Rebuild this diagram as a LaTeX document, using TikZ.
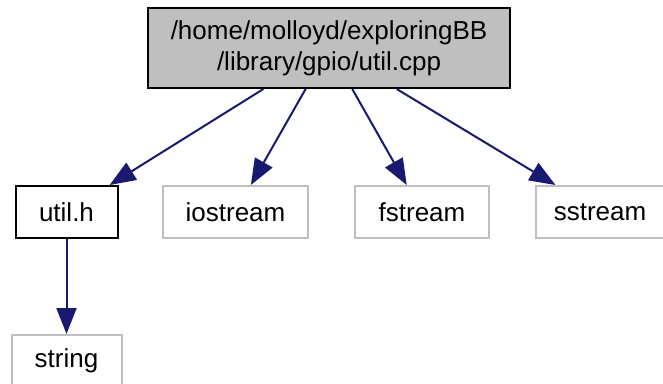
\documentclass[tikz,border=0pt]{standalone}
\usepackage{fontspec}
\setmainfont{Liberation Sans}
\usetikzlibrary{arrows.meta}
\definecolor{edgeblue}{HTML}{191970}
\definecolor{boxgray}{HTML}{BFBFBF}
\tikzset{
  filebox/.style={draw=boxgray, line width=2pt, fill=white, rectangle, inner sep=0pt,
    minimum height=52pt, font=\fontsize{26}{31}\selectfont},
  docbox/.style={filebox, draw=black},
  rootbox/.style={docbox, fill=boxgray, align=center},
  dep/.style={draw=edgeblue, line width=2pt, -{Triangle[length=26pt,width=20pt]}},
}
\begin{document}
\begin{tikzpicture}[x=1pt,y=-1pt]
  \fill[white] (0,0) rectangle (663,383);
  \useasboundingbox (0,0) rectangle (663,383);
  \clip (0,0) rectangle (663,383);
  \node[rootbox, minimum width=362pt, minimum height=80pt] (root) at (329,48)
    {/home/molloyd/exploringBB\\/library/gpio/util.cpp};
  \node[docbox, minimum width=102pt] (utilh) at (66.5,212) {util.h};
  \node[filebox, minimum width=145pt] (iostream) at (235.5,212) {iostream};
  \node[filebox, minimum width=134pt] (fstream) at (422,212) {fstream};
  \node[filebox, minimum width=128pt] (sstream) at (600,212) {sstream};
  \node[filebox, minimum width=110pt] (string) at (66.5,361) {string};
  \draw[dep] (root) -- (utilh);
  \draw[dep] (root) -- (iostream);
  \draw[dep] (root) -- (fstream);
  \draw[dep] (root) -- (sstream);
  \draw[dep] (utilh) -- (string);
\end{tikzpicture}
\end{document}
